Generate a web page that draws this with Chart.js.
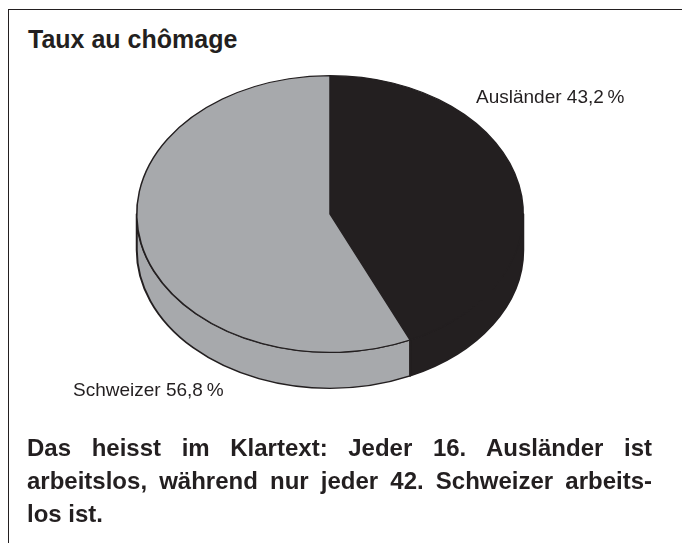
<!DOCTYPE html>
<html>
<head>
<meta charset="utf-8">
<script src="https://cdn.jsdelivr.net/npm/chart.js@4/dist/chart.umd.min.js"></script>
<style>
  html, body { margin: 0; padding: 0; background: #fff; }
  body { width: 682px; height: 543px; position: relative; overflow: hidden; font-family: "Liberation Sans", Arial, sans-serif; color: #231f20; }
  #box { position: absolute; left: 8px; top: 9px; right: -10px; bottom: -10px; border-top: 1.5px solid #231f20; border-left: 1.5px solid #231f20; }
  #titel { position: absolute; left: 28px; top: 25px; font-size: 25px; font-weight: bold; line-height: 28px; }
  #fazit { position: absolute; left: 27px; top: 431px; width: 625px; font-size: 24px; font-weight: bold; line-height: 33px; }
  #fazit div { text-align: justify; text-align-last: justify; white-space: nowrap; }
  #fazit div.last { text-align-last: left; }
  canvas { position: absolute; left: 0; top: 0; }
</style>
</head>
<body>
<div id="box"></div>
<div id="titel">Taux au chômage</div>
<canvas id="torte" width="682" height="543"></canvas>
<div id="fazit">
  <div>Das heisst im Klartext: Jeder 16. Ausländer ist</div>
  <div>arbeitslos, während nur jeder 42. Schweizer arbeits-</div>
  <div class="last">los ist.</div>
</div>
<script>
const kategorien = ["Ausländer", "Schweizer"];
const anteile = [43.2, 56.8];
const anteilText = ["43,2\u2009%", "56,8\u2009%"];
const farben = ["#231f20", "#a7a9ac"];

const KIPP = 0.716;   // ellipse: hoehe / breite
const TIEFE = 36;     // dicke der scheibe in px

// beschriftung relativ zur tortenmitte (grundlinie)
const labelPos = [
    { dx: 146, dy: -111 },
    { dx: -257, dy: 182 }
];

function seitenTeil(ctx, arc, a, b, D) {
    ctx.beginPath();
    ctx.arc(arc.x, arc.y, arc.outerRadius, a, b);
    ctx.lineTo(arc.x + arc.outerRadius * Math.cos(b), arc.y + D + arc.outerRadius * Math.sin(b));
    ctx.arc(arc.x, arc.y + D, arc.outerRadius, b, a, true);
    ctx.closePath();
    ctx.fill();
    ctx.stroke();
}

const torte3d = {
    id: 'torte3d',
    beforeDatasetsDraw(chart) {
        const ctx = chart.ctx;
        const arcs = chart.getDatasetMeta(0).data;
        if (!arcs.length) return;
        const cx = arcs[0].x, cy = arcs[0].y;
        ctx.save();
        ctx.translate(cx, cy);
        ctx.scale(1, KIPP);
        ctx.translate(-cx, -cy);

        const D = TIEFE / KIPP;
        ctx.lineWidth = 2;
        ctx.strokeStyle = "#231f20";
        ctx.lineJoin = "round";
        arcs.forEach((arc, i) => {
            ctx.fillStyle = farben[i];
            // sichtbarer vorderer rand: winkel 0..PI
            [-2 * Math.PI, 0, 2 * Math.PI].forEach(shift => {
                const a = Math.max(arc.startAngle + shift, 0);
                const b = Math.min(arc.endAngle + shift, Math.PI);
                if (b > a) seitenTeil(ctx, arc, a, b, D);
            });
        });
    },
    afterDatasetsDraw(chart) {
        const ctx = chart.ctx;
        ctx.restore();
        const arcs = chart.getDatasetMeta(0).data;
        const cx = arcs[0].x, cy = arcs[0].y;
        ctx.save();
        ctx.font = '19px "Liberation Sans", Arial, sans-serif';
        ctx.fillStyle = "#231f20";
        ctx.textBaseline = "alphabetic";
        ctx.textAlign = "left";
        kategorien.forEach((k, i) => {
            ctx.fillText(k + " " + anteilText[i], cx + labelPos[i].dx, cy + labelPos[i].dy);
        });
        ctx.restore();
    }
};

new Chart(document.getElementById('torte'), {
    type: 'pie',
    data: {
        labels: kategorien,
        datasets: [{
            data: anteile,
            backgroundColor: farben,
            borderColor: "#231f20",
            borderWidth: 1.5,
            borderJoinStyle: 'round'
        }]
    },
    options: {
        responsive: false,
        animation: false,
        events: [],
        layout: { padding: { left: 136, right: 158, top: 20, bottom: 135 } },
        plugins: { legend: { display: false }, tooltip: { enabled: false } }
    },
    plugins: [torte3d]
});
</script>
</body>
</html>
